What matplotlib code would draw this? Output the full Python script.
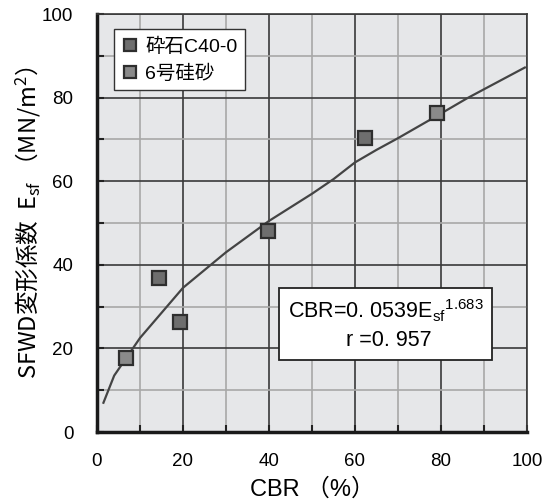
import matplotlib
matplotlib.use('Agg')
import matplotlib.pyplot as plt
from matplotlib.ticker import MultipleLocator

plt.rcParams['font.family'] = ['Liberation Sans', 'Noto Sans CJK JP', 'DejaVu Sans']
plt.rcParams['mathtext.default'] = 'regular'

# data
gravel_cbr = [14.4, 19.3, 39.7, 62.4]
gravel_esf = [36.9, 26.4, 48.1, 70.3]
sand_cbr = [6.8, 79.0]
sand_esf = [17.8, 76.3]

fit_cbr = [1.5, 4, 10, 20, 30, 40, 50, 55, 60, 65, 70, 80, 86, 90, 99.5]
fit_esf = [7.0, 13.5, 22.5, 34.5, 43.0, 50.5, 57.0, 60.5, 64.5, 67.5, 70.3, 76.2, 79.8, 82.0, 87.2]

fig = plt.figure(figsize=(5.52, 5.01), dpi=100)
ax = fig.add_axes([0.1757, 0.1377, 0.7790, 0.8343])
ax.set_facecolor('#e6e7e9')

ax.set_xlim(0, 100)
ax.set_ylim(0, 100)
ax.xaxis.set_major_locator(MultipleLocator(20))
ax.yaxis.set_major_locator(MultipleLocator(20))
ax.xaxis.set_minor_locator(MultipleLocator(10))
ax.yaxis.set_minor_locator(MultipleLocator(10))

# grid: dark every 20, light every 10
ax.grid(which='minor', color='#a8a8a8', lw=1.2)
ax.grid(which='major', color='#3a3a3a', lw=1.2)
ax.set_axisbelow(True)

ax.tick_params(which='both', direction='in', length=5, width=1.5, color='#222222',
               top=False, right=False)
ax.tick_params(which='major', labelsize=13.5)
ax.tick_params(axis='x', which='major', pad=15)
ax.tick_params(axis='y', which='major', pad=17)

for side in ['left', 'bottom']:
    ax.spines[side].set_linewidth(2.5)
    ax.spines[side].set_color('#1a1a1a')
for side in ['top', 'right']:
    ax.spines[side].set_linewidth(1.2)
    ax.spines[side].set_color('#3a3a3a')

ax.plot(fit_cbr, fit_esf, color='#444444', lw=1.6, zorder=3)

ax.plot(gravel_cbr, gravel_esf, ls='none', marker='s', ms=9.5, mfc='#6e6e6e',
        mec='#2e2e2e', mew=1.6, zorder=4, label='砕石C40-0')
ax.plot(sand_cbr, sand_esf, ls='none', marker='s', ms=9.5, mfc='#8a8a8a',
        mec='#2e2e2e', mew=1.6, zorder=4, label='6号硅砂')

leg = ax.legend(loc='upper left', bbox_to_anchor=(0.04, 0.963), fontsize=14,
                frameon=True, fancybox=False, handlelength=0.8, handletextpad=0.4,
                borderpad=0.4, labelspacing=0.45, markerscale=0.85,
                borderaxespad=0)
leg.get_frame().set_edgecolor('#333333')
leg.get_frame().set_linewidth(1.0)
leg.get_frame().set_facecolor('white')
leg.get_frame().set_alpha(1)

ax.text(0.672, 0.258, 'CBR=0. 0539E$_{sf}$$^{1. 683}$\n r =0. 957',
        transform=ax.transAxes, ha='center', va='center', fontsize=15.5,
        linespacing=1.4,
        bbox=dict(boxstyle='square,pad=0.4', fc='white', ec='#222222', lw=1.3),
        zorder=5)

ax.set_xlabel('CBR （%）', fontsize=17, labelpad=6)
ax.set_ylabel('SFWD変形係数  E$_{sf}$ （MN/m$^2$）', fontsize=17, labelpad=-1,
              family='Noto Sans CJK JP')

fig.savefig('out.png', dpi=100)
